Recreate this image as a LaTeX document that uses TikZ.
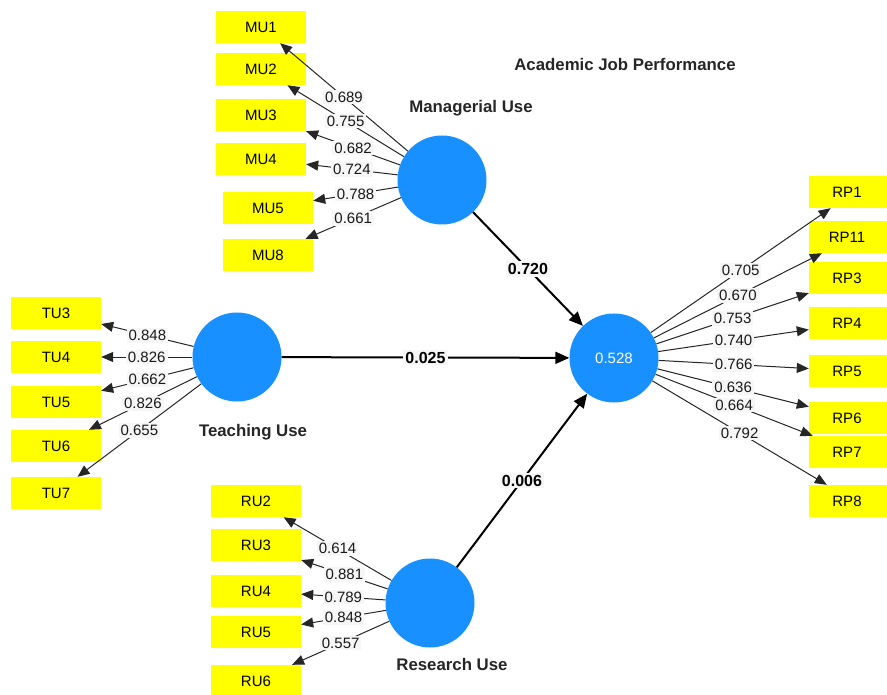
\documentclass[tikz,border=0pt]{standalone}
\usepackage{fontspec}
\setmainfont{Liberation Sans}
\usetikzlibrary{arrows.meta}
\definecolor{lvblue}{RGB}{24,144,255}
\definecolor{labelbg}{RGB}{246,246,246}
\definecolor{mvyellow}{RGB}{255,255,0}
\tikzset{
  mvbox/.style={fill=mvyellow, minimum width=90pt, minimum height=32pt, inner sep=0pt, text=black, font=\fontsize{15}{17}\selectfont},
  lvcirc/.style={circle, fill=lvblue, minimum size=89pt, inner sep=0pt},
  lvname/.style={font=\bfseries\fontsize{16.8}{19}\selectfont, text=black!85},
  loading/.style={draw=black!85, line width=1pt, -{Triangle[length=12pt,width=10pt]}},
  pathc/.style={draw=black, line width=2pt, -{Triangle[length=14pt,width=12pt]}},
  lval/.style={fill=labelbg, inner sep=2pt, text=black!90, font=\fontsize{15}{17}\selectfont},
  pval/.style={fill=labelbg, inner sep=2pt, text=black, font=\bfseries\fontsize{16}{18}\selectfont}
}
\begin{document}
\begin{tikzpicture}[x=1pt,y=-1pt]
\useasboundingbox (0,0) rectangle (887,695);
\clip (0,0) rectangle (887,695);
\fill[white] (0,0) rectangle (887,695);

% latent variables
\node[lvcirc] (MU) at (442,180) {};
\node[lvcirc] (TU) at (237,357) {};
\node[lvcirc] (RU) at (430,603) {};
\node[lvcirc, text=white, font=\fontsize{15}{17}\selectfont] (AJP) at (614,358) {0.528};

\node[lvname] (MUname) at (471,108) {Managerial Use};
\node[lvname] (TUname) at (253,432) {Teaching Use};
\node[lvname] (RUname) at (452,664) {Research Use};
\node[lvname] (AJPname) at (625,64) {Academic Job Performance};

% indicators
\node[mvbox] (MU1) at (261,27) {MU1};
\node[mvbox] (MU2) at (261,69) {MU2};
\node[mvbox] (MU3) at (261,115) {MU3};
\node[mvbox] (MU4) at (261,159) {MU4};
\node[mvbox] (MU5) at (268,208) {MU5};
\node[mvbox] (MU8) at (268,255) {MU8};

\node[mvbox] (TU3) at (56,313) {TU3};
\node[mvbox] (TU4) at (56,357) {TU4};
\node[mvbox] (TU5) at (56,402) {TU5};
\node[mvbox] (TU6) at (56,446) {TU6};
\node[mvbox] (TU7) at (56,493) {TU7};

\node[mvbox] (RU2) at (256,501) {RU2};
\node[mvbox] (RU3) at (256,545) {RU3};
\node[mvbox] (RU4) at (256,591) {RU4};
\node[mvbox] (RU5) at (256,632) {RU5};
\node[mvbox] (RU6) at (256,681) {RU6};

\node[mvbox] (RP1) at (854,192) {\hspace*{-14pt}RP1};
\node[mvbox] (RP11) at (854,237) {\hspace*{-14pt}RP11};
\node[mvbox] (RP3) at (854,278) {\hspace*{-14pt}RP3};
\node[mvbox] (RP4) at (854,323) {\hspace*{-14pt}RP4};
\node[mvbox] (RP5) at (854,371) {\hspace*{-14pt}RP5};
\node[mvbox] (RP6) at (854,418) {\hspace*{-14pt}RP6};
\node[mvbox] (RP7) at (854,452) {\hspace*{-14pt}RP7};
\node[mvbox] (RP8) at (854,501) {\hspace*{-14pt}RP8};

% outer loadings
\draw[loading] (MU) -- node[lval]{0.689} (MU1);
\draw[loading] (MU) -- node[lval]{0.755} (MU2);
\draw[loading] (MU) -- node[lval]{0.682} (MU3);
\draw[loading] (MU) -- node[lval]{0.724} (MU4);
\draw[loading] (MU) -- node[lval]{0.788} (MU5);
\draw[loading] (MU) -- node[lval]{0.661} (MU8);

\draw[loading] (TU) -- node[lval]{0.848} (TU3);
\draw[loading] (TU) -- node[lval]{0.826} (TU4);
\draw[loading] (TU) -- node[lval]{0.662} (TU5);
\draw[loading] (TU) -- node[lval]{0.826} (TU6);
\draw[loading] (TU) -- node[lval]{0.655} (TU7);

\draw[loading] (RU) -- node[lval]{0.614} (RU2);
\draw[loading] (RU) -- node[lval]{0.881} (RU3);
\draw[loading] (RU) -- node[lval]{0.789} (RU4);
\draw[loading] (RU) -- node[lval]{0.848} (RU5);
\draw[loading] (RU) -- node[lval]{0.557} (RU6);

\draw[loading] (AJP) -- node[lval]{0.705} (RP1);
\draw[loading] (AJP) -- node[lval]{0.670} (RP11);
\draw[loading] (AJP) -- node[lval]{0.753} (RP3);
\draw[loading] (AJP) -- node[lval]{0.740} (RP4);
\draw[loading] (AJP) -- node[lval]{0.766} (RP5);
\draw[loading] (AJP) -- node[lval]{0.636} (RP6);
\draw[loading] (AJP) -- node[lval]{0.664} (RP7);
\draw[loading] (AJP) -- node[lval]{0.792} (RP8);

% structural paths
\draw[pathc] (MU) -- node[pval]{0.720} (AJP);
\draw[pathc] (TU) -- node[pval]{0.025} (AJP);
\draw[pathc] (RU) -- node[pval]{0.006} (AJP);
\end{tikzpicture}
\end{document}
